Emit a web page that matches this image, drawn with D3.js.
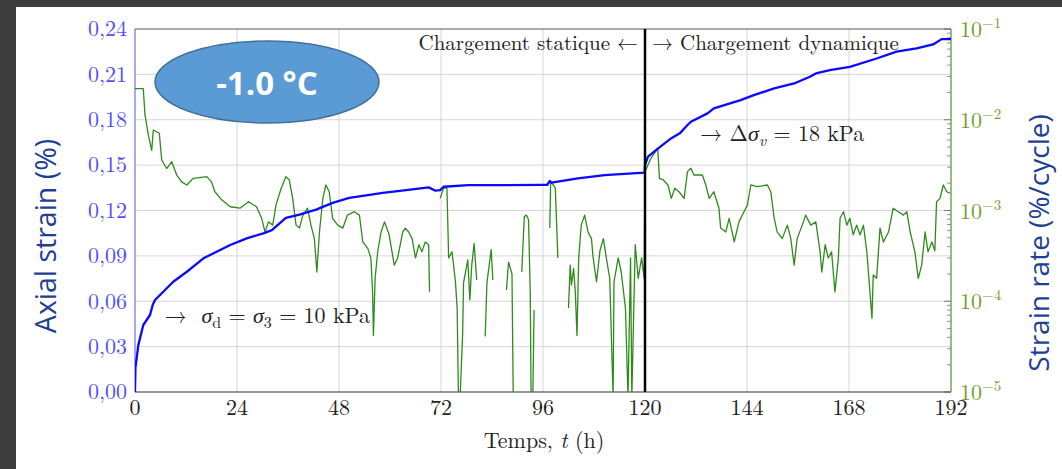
<!DOCTYPE html>
<html>
<head>
<meta charset="utf-8">
<script src="https://cdn.jsdelivr.net/npm/d3@7"></script>
<style>
  body { margin: 0; background: #fff; }
  svg { display: block; }
</style>
</head>
<body>
<div id="chart"></div>
<script>
// axial strain (%) vs time (h)
var strainTime  = [0, 0.1, 0.78, 1.95, 3.53, 4.16, 4.7, 6.66, 9.0, 12.2, 16.1, 19.2, 22.4, 26.3, 30.2, 32.2,
                   35.5, 38.7, 42.6, 46.5, 50.4, 54.4, 58.3, 63.8, 69.1, 70.7, 71.8, 72.6, 78.5, 86.4, 95.5,
                   97.0, 97.6, 98.0, 104.2, 110.5, 119.9, 120.0, 120.7, 123.1, 126.2, 128.2, 130, 130.8,
                   134.7, 136.2, 142.5, 145.6, 150.4, 155.1, 158.8, 160.2, 163.5, 168.2, 174.5, 179.2,
                   183.9, 187.8, 189.8, 192];
var strainValue = [0, 0.016, 0.031, 0.0443, 0.0509, 0.0575, 0.0608, 0.0663, 0.0729, 0.0795, 0.0884, 0.0927,
                   0.0972, 0.1016, 0.1049, 0.107, 0.1151, 0.1173, 0.1206, 0.125, 0.1283, 0.13, 0.1316, 0.1335,
                   0.1353, 0.1331, 0.1335, 0.1357, 0.1368, 0.1368, 0.137, 0.137, 0.1395, 0.1385, 0.1412, 0.1434,
                   0.145, 0.15, 0.1556, 0.1611, 0.1678, 0.171, 0.1765, 0.1787, 0.1842, 0.1875, 0.193, 0.1963,
                   0.2007, 0.204, 0.2084, 0.2106, 0.2128, 0.215, 0.2205, 0.225, 0.2272, 0.2298, 0.2333, 0.2333];

// strain rate (%/cycle): null = no data, 0 = falls below the axis
var rateTime  = [0, 1.95, 2.35, 3.13, 3.93, 4.31, 5.72, 6.28, 7.46, 8.64, 9.81, 11.0, 12.2, 13.7, 16.9, 18.0,
                 18.8, 20.4, 22.4, 24.7, 26.7, 28.6, 29.8, 30.6, 31.4, 32.4, 33.2, 34.4, 35.5, 36.3, 37.1,
                 37.9, 38.7, 39.5, 40.6, 41.4, 42.2, 42.8, 43.4, 44.2, 44.9, 45.7, 46.5, 47.7, 48.9, 50.0,
                 51.6, 52.8, 53.6, 54.8, 55.5, 55.9, 56.1, 56.5, 57.1, 57.9, 58.7, 59.8, 61.0, 61.8, 63.0,
                 63.6, 64.4, 65.2, 66.0, 66.8, 67.5, 68.3, 69.1, 69.3, 69.4,
                 71.8, 72.6, 73.4, 73.8, 74.6, 75.4, 75.8, 76.1, 76.5, 77.1, 77.3, 78.3, 78.8, 79.2, 79.8, 80.4, 80.5,
                 82.4, 82.8, 83.8, 84.2, 84.3,
                 87.4, 87.9, 88.7, 89.0, 89.1,
                 91.0, 91.6, 92.1, 92.6, 93.0, 93.2, 93.6, 93.9, 94.0,
                 97.6, 97.8, 98.4, 98.9, 99.1, 99.5, 99.6,
                 102.0, 102.4, 102.7, 103.2, 103.6, 104.0, 104.4, 105.0, 105.8, 106.6, 107.4, 107.8, 108.6,
                 109.4, 110.2, 110.9, 111.7, 112.5, 112.7, 113.7, 114.4, 115.4, 116.0, 116.6, 116.9, 117.7,
                 118.4, 119.2, 119.8, 120.0, 121.4, 123.0, 123.4, 124.3, 125.4, 126.2, 127.0, 128.0, 129.2,
                 130.0, 130.8, 131.5, 133.5, 134.3, 135.1, 136.2, 137.4, 137.8, 139.0, 139.8, 141.0, 142.1,
                 143.3, 144.1, 144.9, 146.4, 148.8, 149.6, 150.4, 151.1, 152.3, 153.5, 154.3, 155.1, 155.8,
                 157.0, 157.8, 159.0, 160.2, 161.2, 161.6, 162.4, 163.1, 163.9, 164.7, 165.5, 165.9, 166.7,
                 167.5, 168.2, 169.0, 169.8, 170.6, 171.4, 172.2, 172.8, 173.4, 173.7, 174.5, 175.3, 176.1,
                 177.3, 178.4, 179.6, 180.8, 181.6, 182.4, 183.5, 184.3, 185.1, 185.9, 186.6, 187.5, 188.2,
                 188.6, 189.4, 190.2, 191.0, 191.8];
var rateValue = [2.2e-2, 2.2e-2, 1.13e-2, 6.8e-3, 4.6e-3, 7.7e-3, 7.1e-3, 3.6e-3, 2.9e-3, 3.45e-3, 2.46e-3, 2.07e-3,
                 1.91e-3, 2.26e-3, 2.36e-3, 2.07e-3, 1.61e-3, 1.31e-3, 1.10e-3, 1.06e-3, 1.25e-3, 1.10e-3, 8.2e-4,
                 5.8e-4, 7.5e-4, 6.9e-4, 1.16e-3, 1.76e-3, 2.36e-3, 2.17e-3, 1.36e-3, 6.9e-4, 6.4e-4, 8.9e-4,
                 1.06e-3, 6.9e-4, 4.9e-4, 2.1e-4, 5.8e-4, 1.36e-3, 1.91e-3, 1.61e-3, 8.2e-4, 6.9e-4, 6.4e-4,
                 8.9e-4, 9.7e-4, 8.9e-4, 4.5e-4, 3.8e-4, 3.0e-4, 1.27e-4, 4.2e-5, 1.79e-4, 3.5e-4, 5.8e-4,
                 7.5e-4, 5.4e-4, 2.5e-4, 3.0e-4, 5.8e-4, 6.4e-4, 5.8e-4, 4.9e-4, 3.0e-4, 4.2e-4, 3.5e-4,
                 4.5e-4, 4.2e-4, 1.27e-4, null,
                 1.36e-3, 1.76e-3, 1.76e-3, 3.0e-4, 3.5e-4, 1.64e-4, 8.4e-5, 0, 0, 4.5e-5, 1.59e-4, 2.85e-4,
                 1.03e-4, 2.4e-4, 4.35e-4, 1.71e-4, null,
                 4.1e-5, 1.58e-4, 3.7e-4, 1.71e-4, null,
                 1.33e-4, 2.7e-4, 2.0e-4, 0, null,
                 2.1e-4, 8.6e-4, 8.9e-4, 7.9e-4, 1.22e-4, 0, 0, 8.0e-5, null,
                 6.4e-4, 2.07e-3, 1.91e-3, 1.76e-3, 9.7e-4, 3.0e-4, null,
                 8.4e-5, 2.5e-4, 1.51e-4, 2.3e-4, 1.27e-4, 4.2e-5, 3.0e-4, 6.9e-4, 8.9e-4, 5.8e-4, 4.9e-4,
                 3.0e-4, 1.64e-4, 3.6e-4, 4.9e-4, 3.0e-4, 1.79e-4, 0, 1.64e-4, 3.0e-4, 2.1e-4, 8.4e-5, 0,
                 3.0e-4, 0, 4.2e-4, 1.79e-4, 3.0e-4, 1.79e-4, 2.68e-3, 3.76e-3, 4.84e-3, 2.26e-3, 2.17e-3,
                 1.91e-3, 1.36e-3, 1.76e-3, 1.61e-3, 1.36e-3, 2.68e-3, 2.92e-3, 2.46e-3, 2.46e-3, 1.91e-3,
                 1.36e-3, 1.61e-3, 1.06e-3, 6.4e-4, 5.8e-4, 8.2e-4, 4.5e-4, 7.5e-4, 9.7e-4, 1.15e-3, 1.91e-3,
                 1.83e-3, 1.91e-3, 1.61e-3, 8.2e-4, 5.8e-4, 4.9e-4, 6.9e-4, 4.9e-4, 2.5e-4, 4.9e-4, 6.9e-4,
                 8.9e-4, 6.9e-4, 7.5e-4, 3.5e-4, 2.1e-4, 4.2e-4, 3.0e-4, 3.5e-4, 1.27e-4, 3.0e-4, 8.2e-4,
                 9.7e-4, 6.9e-4, 8.2e-4, 5.4e-4, 6.9e-4, 5.4e-4, 6.9e-4, 3.5e-4, 1.51e-4, 6.5e-5, 1.95e-4,
                 1.79e-4, 6.4e-4, 4.5e-4, 5.8e-4, 1.06e-3, 9.7e-4, 8.9e-4, 9.7e-4, 5.8e-4, 3.5e-4, 1.79e-4,
                 2.5e-4, 5.8e-4, 3.5e-4, 4.5e-4, 3.6e-4, 1.25e-3, 1.36e-3, 1.91e-3, 1.61e-3, 1.55e-3];

var timeTicks   = [0, 24, 48, 72, 96, 120, 144, 168, 192];
var strainTicks = [0, 0.03, 0.06, 0.09, 0.12, 0.15, 0.18, 0.21, 0.24];
var rateTicks   = [1e-5, 1e-4, 1e-3, 1e-2, 1e-1];
var rateExp     = ["\u22125", "\u22124", "\u22123", "\u22122", "\u22121"];
var loadSwitch  = 120;

var W = 1062, H = 469;
var margin = { left: 135, right: 111, top: 29, bottom: 77 };
var pw = W - margin.left - margin.right, ph = H - margin.top - margin.bottom;

var svg = d3.select("#chart").append("svg").attr("width", W).attr("height", H);

// dark frame of the slide
svg.append("rect").attr("x", 0).attr("y", 0).attr("width", W).attr("height", 7).attr("fill", "#3d3d3d");
svg.append("rect").attr("x", 0).attr("y", 0).attr("width", 16).attr("height", H).attr("fill", "#3d3d3d");

var x = d3.scaleLinear().domain([0, 192]).range([0, pw]);
var y = d3.scaleLinear().domain([0, 0.24]).range([ph, 0]);
var yR = d3.scaleLog().domain([1e-5, 1e-1]).range([ph, 0]);

var g = svg.append("g").attr("transform", "translate(" + margin.left + "," + margin.top + ")");

svg.append("defs").append("clipPath").attr("id", "plotclip")
   .append("rect").attr("width", pw).attr("height", ph);

// grid
g.selectAll(".vg").data(timeTicks).enter().append("line")
 .attr("x1", d => x(d)).attr("x2", d => x(d)).attr("y1", 0).attr("y2", ph)
 .attr("stroke", "#d6d6d6").attr("stroke-width", 1);
g.selectAll(".hg").data(strainTicks).enter().append("line")
 .attr("x1", 0).attr("x2", pw).attr("y1", d => y(d)).attr("y2", d => y(d))
 .attr("stroke", "#d6d6d6").attr("stroke-width", 1);

// minor log ticks on right axis
var minor = [];
rateTicks.forEach(function (t, i) {
  if (i < rateTicks.length - 1) for (var k = 2; k <= 9; k++) minor.push(t * k);
});
g.selectAll(".mt").data(minor).enter().append("line")
 .attr("x1", pw - 4).attr("x2", pw).attr("y1", d => yR(d)).attr("y2", d => yR(d))
 .attr("stroke", "#777").attr("stroke-width", 0.8);
g.selectAll(".Mt").data(rateTicks).enter().append("line")
 .attr("x1", pw - 7).attr("x2", pw).attr("y1", d => yR(d)).attr("y2", d => yR(d))
 .attr("stroke", "#777").attr("stroke-width", 1);

// frame
g.append("line").attr("x1", 0).attr("x2", pw).attr("y1", 0).attr("y2", 0).attr("stroke", "#6b6b6b").attr("stroke-width", 1.2);
g.append("line").attr("x1", 0).attr("x2", pw).attr("y1", ph).attr("y2", ph).attr("stroke", "#444").attr("stroke-width", 1.2);
g.append("line").attr("x1", 0).attr("x2", 0).attr("y1", 0).attr("y2", ph).attr("stroke", "#7b7bff").attr("stroke-width", 1.2);
g.append("line").attr("x1", pw).attr("x2", pw).attr("y1", 0).attr("y2", ph).attr("stroke", "#5aa23a").attr("stroke-width", 1.2);

// axes labels
var serif = "'Latin Modern Roman', 'Liberation Serif', 'DejaVu Serif', serif";
var comma = d => d3.format(".2f")(d).replace(".", ",");

g.selectAll(".yl").data(strainTicks).enter().append("text")
 .attr("x", -8).attr("y", d => y(d)).attr("dy", "0.33em").attr("text-anchor", "end")
 .attr("font-family", serif).attr("font-size", 22).attr("fill", "#4f4fff")
 .text(comma);

g.selectAll(".xl").data(timeTicks).enter().append("text")
 .attr("x", d => x(d)).attr("y", ph + 23).attr("text-anchor", "middle")
 .attr("font-family", serif).attr("font-size", 22).attr("fill", "#222")
 .text(d => d);

var rl = g.selectAll(".rl").data(rateTicks).enter().append("text")
 .attr("x", pw + 9).attr("y", d => yR(d) + 8)
 .attr("font-family", serif).attr("font-size", 22).attr("fill", "#6f9e2e");
rl.append("tspan").text("10");
rl.append("tspan").attr("dy", -9).attr("font-size", 15).text((d, i) => rateExp[i]);

// axis titles
svg.append("text").attr("transform", "translate(544,448)")
   .attr("text-anchor", "middle").attr("font-family", serif).attr("font-size", 22).attr("fill", "#222")
   .call(function (t) {
     t.append("tspan").text("Temps, ");
     t.append("tspan").attr("font-style", "italic").text("t");
     t.append("tspan").text(" (h)");
   });

var sans = "'Open Sans', 'Noto Sans', sans-serif";
svg.append("text").attr("transform", "translate(56,236) rotate(-90)")
   .attr("text-anchor", "middle").attr("font-family", sans).attr("font-size", 28.5).attr("fill", "#1f3f96")
   .text("Axial strain (%)");
svg.append("text").attr("transform", "translate(1049,243) rotate(-90)")
   .attr("text-anchor", "middle").attr("font-family", sans).attr("font-size", 28).attr("fill", "#1f3f96")
   .text("Strain rate (%/cycle)");

// data lines
var plot = g.append("g").attr("clip-path", "url(#plotclip)");

var rateData = rateTime.map((t, i) => ({ t: t, v: rateValue[i] }));
var rateLine = d3.line()
  .defined(d => d.v !== null)
  .x(d => x(d.t))
  .y(d => d.v > 0 ? yR(d.v) : ph + 5);
plot.append("path").datum(rateData).attr("d", rateLine)
    .attr("fill", "none").attr("stroke", "#2e8b1c").attr("stroke-width", 1.3).attr("stroke-linejoin", "round");

var strainData = strainTime.map((t, i) => ({ t: t, v: strainValue[i] }));
var strainLine = d3.line().x(d => x(d.t)).y(d => y(d.v));
plot.append("path").datum(strainData).attr("d", strainLine)
    .attr("fill", "none").attr("stroke", "#0a0aff").attr("stroke-width", 2.3).attr("stroke-linejoin", "round");

// static / dynamic separator
g.append("line").attr("x1", x(loadSwitch)).attr("x2", x(loadSwitch)).attr("y1", 0).attr("y2", ph)
 .attr("stroke", "#000").attr("stroke-width", 2.5);

// annotations
function mathText(px, py, parts, anchor, size) {
  var t = g.append("text").attr("x", px).attr("y", py).attr("font-family", serif)
           .attr("font-size", size || 22).attr("fill", "#222").attr("text-anchor", anchor || "start")
           .attr("xml:space", "preserve");
  var shift = 0;
  parts.forEach(function (p) {
    var s = t.append("tspan").text(p.s);
    if (p.i) s.attr("font-style", "italic");
    var want = p.sub ? 5 : 0;
    if (want !== shift) { s.attr("dy", want - shift); shift = want; }
    if (p.sub) s.attr("font-size", 16);
  });
  return t;
}

mathText(x(loadSwitch) - 7, 21, [{ s: "Chargement statique \u2190" }], "end", 21);
mathText(x(loadSwitch) + 7, 21, [{ s: "\u2192 Chargement dynamique" }], "start", 21);
mathText(x(7), y(0.0457), [{ s: "\u2192  " }, { s: "\u03c3", i: true }, { s: "d", sub: true },
  { s: " = " }, { s: "\u03c3", i: true }, { s: "3", sub: true }, { s: " = 10 kPa" }]);
mathText(x(133), y(0.1657), [{ s: "\u2192 \u0394" }, { s: "\u03c3", i: true }, { s: "v", i: true, sub: true },
  { s: " = 18 kPa" }]);

// temperature badge
svg.append("ellipse").attr("cx", 267).attr("cy", 82).attr("rx", 112).attr("ry", 41)
   .attr("fill", "#5b9bd5").attr("stroke", "#41719c").attr("stroke-width", 1.5);
svg.append("text").attr("x", 267).attr("y", 95).attr("text-anchor", "middle")
   .attr("font-family", sans).attr("font-weight", "bold").attr("font-size", 33).attr("fill", "#fff")
   .text("-1.0 \u00b0C");
</script>
</body>
</html>
